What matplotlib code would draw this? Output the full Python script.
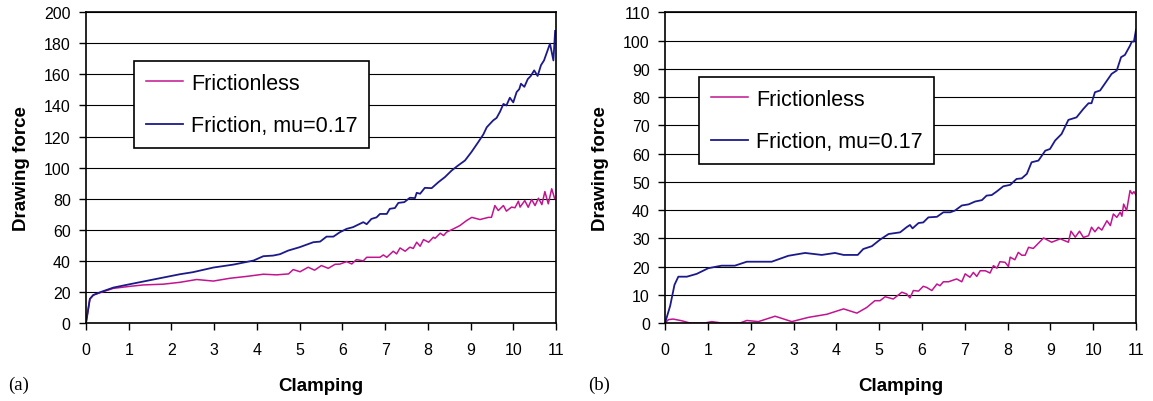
import matplotlib.pyplot as plt

plt.rcParams['font.family'] = ['Liberation Sans', 'DejaVu Sans']

# (a) valeurs
xa_fric = [0, 0.09, 0.17, 0.33, 0.64, 1.03, 1.65, 2.2, 2.5, 2.98, 3.45, 3.92, 4.15, 4.38, 4.54,
           4.73, 5.0, 5.32, 5.48, 5.63, 5.79, 5.94, 6.1, 6.25, 6.49, 6.57, 6.68, 6.8, 6.88, 7.04,
           7.11, 7.23, 7.31, 7.45, 7.58, 7.7, 7.74, 7.82, 7.93, 8.09, 8.25, 8.4, 8.56, 8.71, 8.87,
           9.02, 9.18, 9.3, 9.38, 9.53, 9.61, 9.69, 9.77, 9.84, 9.92, 10.0, 10.08, 10.14, 10.18,
           10.26, 10.34, 10.41, 10.49, 10.57, 10.65, 10.72, 10.86, 10.94, 10.98]
ya_fric = [0, 15.5, 18, 19.8, 22.8, 25, 28.4, 31.4, 32.7, 35.7, 37.6, 40.2, 43, 43.4, 44.3,
           46.6, 48.8, 52, 52.4, 55.6, 55.6, 58.4, 60.6, 61.7, 64.9, 63.6, 67, 68, 70.2, 70.2,
           73.5, 74, 77.3, 77.8, 80.6, 80.4, 83.8, 83.2, 87, 86.8, 90.7, 93.9, 98.2, 101.4, 104.6,
           110, 116.4, 121.4, 126, 130.4, 132, 136, 141, 140, 145, 142, 148.7, 150.5, 154,
           152, 157, 159, 162.6, 159, 166, 169, 179.8, 169, 188]

xa_nofric = [0, 0.09, 0.17, 0.33, 0.64, 1.03, 1.34, 1.81, 2.2, 2.59, 2.98, 3.37, 3.76, 4.15, 4.46,
             4.74, 4.85, 5.01, 5.2, 5.35, 5.51, 5.67, 5.83, 5.94, 6.1, 6.22, 6.33, 6.49, 6.57,
             6.88, 6.96, 7.04, 7.19, 7.27, 7.35, 7.47, 7.58, 7.66, 7.74, 7.82, 7.9, 8.02, 8.13,
             8.17, 8.29, 8.37, 8.44, 8.6, 8.75, 8.91, 9.03, 9.22, 9.42, 9.49, 9.57, 9.65, 9.77,
             9.84, 9.96, 10.04, 10.12, 10.16, 10.27, 10.35, 10.43, 10.51, 10.59, 10.67, 10.74,
             10.82, 10.9, 10.97, 11.0]
ya_nofric = [0, 15.5, 18, 19.5, 22.3, 23.6, 24.5, 25, 26.2, 28, 27, 28.8, 30, 31.4, 31,
             31.6, 34.4, 33, 35.9, 34, 37, 35.2, 37.8, 37.9, 39.5, 38, 40.8, 40, 42.3,
             42.3, 43.8, 42.3, 46.2, 44.5, 48.3, 46.2, 48.8, 48, 52, 49.4, 53.7, 52, 55.2,
             54.5, 57.8, 56.3, 58.5, 60.6, 62.7, 66, 68, 66.6, 68, 68, 75.6, 72.4, 75.6,
             72, 74.6, 74.2, 78.4, 74.6, 78.8, 74.5, 79.5, 75.6, 80.3, 76.2, 84.6, 76.7, 86.4,
             80, 81]

# (b)
xb_fric = [0, 0.12, 0.22, 0.31, 0.51, 0.74, 1.01, 1.32, 1.63, 1.91, 2.49, 2.88, 3.27, 3.66, 3.97,
           4.17, 4.5, 4.63, 4.83, 5.02, 5.22, 5.49, 5.64, 5.72, 5.78, 5.92, 6.03, 6.15, 6.35,
           6.5, 6.66, 6.77, 6.93, 7.09, 7.24, 7.4, 7.51, 7.63, 7.75, 7.9, 8.06, 8.21, 8.33, 8.45,
           8.56, 8.72, 8.88, 8.99, 9.11, 9.26, 9.42, 9.61, 9.77, 9.89, 9.96, 10.04, 10.16, 10.32,
           10.43, 10.55, 10.65, 10.74, 10.86, 10.9, 10.95, 11.0]
yb_fric = [0, 6.1, 13.5, 16.4, 16.4, 17.4, 19.4, 20.3, 20.3, 21.7, 21.7, 23.8, 24.8, 24.1, 24.8,
           24.1, 24.1, 26.2, 27.2, 29.5, 31.5, 32.1, 33.9, 34.7, 33.5, 35.4, 35.6, 37.4, 37.6,
           39.2, 39.2, 39.8, 41.6, 42, 43, 43.5, 45.1, 45.3, 46.6, 48.4, 48.9, 51, 51.2, 52.8,
           56.9, 57.5, 61, 61.6, 64.6, 66.9, 71.9, 72.8, 75.8, 77.8, 77.8, 81.7, 82.3, 85.8,
           88.2, 89.4, 94.1, 94.9, 98.2, 99.6, 99.6, 103.9]

xb_nofric = [0, 0.08, 0.19, 0.39, 0.58, 0.93, 1.09, 1.32, 1.75, 1.91, 2.18, 2.57, 2.96, 3.35,
             3.78, 4.17, 4.48, 4.71, 4.9, 5.02, 5.14, 5.33, 5.53, 5.64, 5.72, 5.8, 5.92, 6.03,
             6.11, 6.23, 6.35, 6.42, 6.5, 6.62, 6.81, 6.93, 7.01, 7.12, 7.2, 7.28, 7.36, 7.48,
             7.59, 7.67, 7.75, 7.82, 7.94, 8.02, 8.06, 8.17, 8.25, 8.33, 8.41, 8.49, 8.6, 8.84,
             9.03, 9.23, 9.42, 9.48, 9.58, 9.68, 9.77, 9.89, 9.96, 10.04, 10.12, 10.2, 10.32,
             10.4, 10.47, 10.55, 10.63, 10.67, 10.71, 10.78, 10.86, 10.91, 10.95, 11.0]
yb_nofric = [0, 1.2, 1.4, 0.8, 0, 0, 0.5, 0, 0, 0.9, 0.5, 2.4, 0.5, 2.0,
             3.1, 5.0, 3.5, 5.5, 7.9, 7.9, 9.3, 8.5, 10.9, 10.3, 8.9, 11.5, 11.3, 13,
             12.6, 11.5, 13.8, 13.2, 14.6, 14.6, 15.6, 14.6, 17.4, 16.2, 17.9, 16.5, 18.5, 18.5,
             17.7, 20.3, 19.4, 21.7, 21.5, 20, 23.3, 22.4, 25, 24, 24, 26.8, 26.4, 30.1,
             28.6, 29.8, 28.6, 32.5, 30.4, 32.5, 30.3, 30.9, 33.9, 32.3, 33.9, 32.9, 36.2,
             34.5, 38.6, 37.4, 39.2, 37.8, 42.1, 39.8, 46.9, 45.7, 46.5, 45.3]

col_nofric = '#c2148f'
col_fric = '#1c1a8a'

fig = plt.figure(figsize=(11.53, 4.02), dpi=100)
ax1 = fig.add_axes([0.0746, 0.194, 0.4076, 0.773])
ax2 = fig.add_axes([0.5768, 0.194, 0.4085, 0.773])


def habiller(ax, xn, yn, xf, yf, ymax, ystep, leg_pos):
    ax.plot(xn, yn, color=col_nofric, lw=1.1, label='Frictionless')
    ax.plot(xf, yf, color=col_fric, lw=1.3, label='Friction, mu=0.17')
    ax.set_xlim(0, 11)
    ax.set_ylim(0, ymax)
    ax.set_xticks(range(0, 12))
    ax.set_yticks(range(0, ymax + 1, ystep))
    ax.yaxis.grid(True, color='black', lw=0.8)
    ax.set_axisbelow(True)
    for s in ax.spines.values():
        s.set_color('black')
        s.set_linewidth(1.2)
    ax.tick_params(direction='out', length=5, width=1, labelsize=11.5, pad=6, colors='black')
    ax.tick_params(axis='x', pad=9)
    ax.set_xlabel('Clamping', fontsize=13.5, fontweight='bold', labelpad=14)
    ax.set_ylabel('Drawing force', fontsize=13.5, fontweight='bold', labelpad=10)
    leg = ax.legend(loc='upper left', bbox_to_anchor=leg_pos, fontsize=15.5, frameon=True,
                    fancybox=False, edgecolor='black', framealpha=1, handlelength=1.75,
                    borderpad=0.55, labelspacing=1.0, borderaxespad=0, handletextpad=0.35)
    leg.get_frame().set_linewidth(1.2)


habiller(ax1, xa_nofric, ya_nofric, xa_fric, ya_fric, 200, 20, (0.102, 0.843))
habiller(ax2, xb_nofric, yb_nofric, xb_fric, yb_fric, 110, 10, (0.072, 0.792))

fig.text(0.007, 0.03, '(a)', family='Liberation Serif', fontsize=13.5)
fig.text(0.51, 0.03, '(b)', family='Liberation Serif', fontsize=13.5)

fig.savefig('out.png', dpi=100)
